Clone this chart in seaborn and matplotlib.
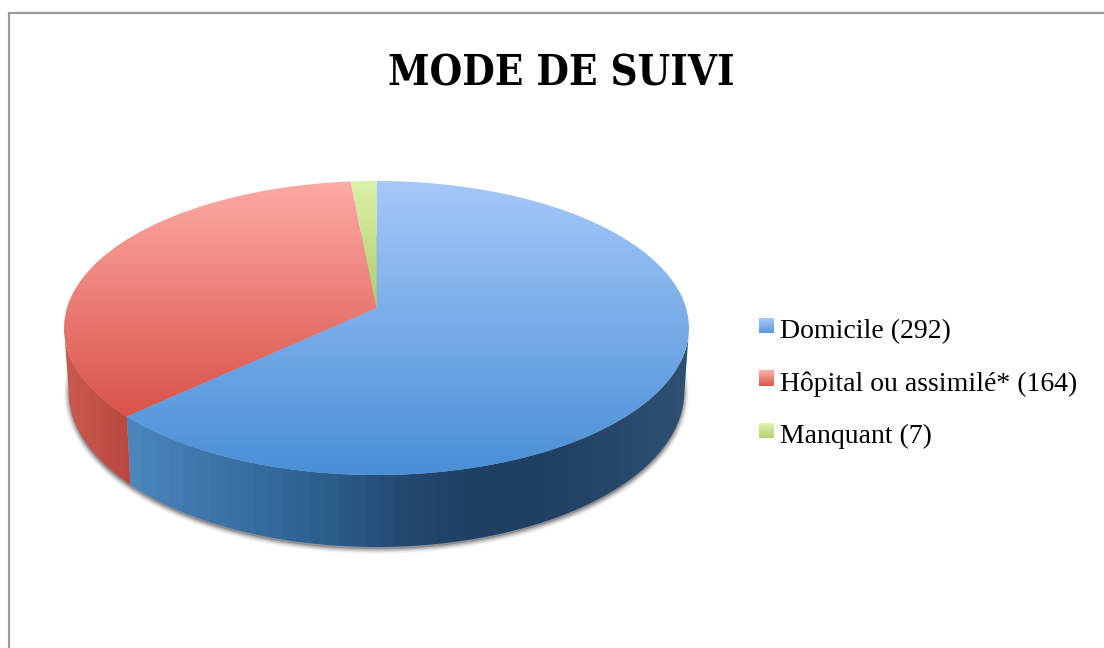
import numpy as np
import matplotlib
matplotlib.use("Agg")
import matplotlib.pyplot as plt
from matplotlib.legend_handler import HandlerBase
from matplotlib.patches import Patch, PathPatch, Rectangle
from matplotlib.path import Path
from matplotlib.transforms import Transform
import seaborn as sns

labels = ["Domicile (292)", "Hôpital ou assimilé* (164)", "Manquant (7)"]
values = [292, 164, 7]
title = "MODE DE SUIVI"

top_colors = [["#a5c8f9", "#4a8fd7"], ["#fdaaa4", "#d9534a"], ["#dcf1a9", "#aecd6c"]]
side_colors = [["#4a85bd", "#3f77ab", "#33699b", "#2a5a88", "#23476f", "#1f3f63", "#1f3f63", "#27486b", "#2c4f72"],
               ["#cb5a50", "#b8483f"],
               ["#a0bc62", "#8aa552"]]
legend_colors = [["#a5c8f9", "#5a9ad9"], ["#fdaaa4", "#d9594f"], ["#e0f4ae", "#b5d06f"]]

sns.set_theme(style="white")
plt.rcParams["font.family"] = ["Liberation Serif", "DejaVu Serif"]

# perspective of the disc, in pixels
cx, apex_y = 376.5, 308
k, a, c = 309.6, 144.3, 0.136
y_scale, depth, x_shrink = 1.06, 62, 0.985


class Tilt(Transform):
    input_dims = 2
    output_dims = 2

    def transform_non_affine(self, xy):
        xy = np.asarray(xy)
        d = 1 + c * xy[:, 1]
        return np.column_stack((cx + k * xy[:, 0] / d, apex_y - a * xy[:, 1] / d))


def lower_rim(pts):
    return np.column_stack((cx + (pts[:, 0] - cx) * x_shrink,
                            apex_y + (pts[:, 1] - apex_y) * y_scale + depth))


class GradientHandler(HandlerBase):
    def create_artists(self, legend, orig_handle, xdescent, ydescent, width, height, fontsize, trans):
        pal = sns.blend_palette(orig_handle.colors, 15)
        bars = []
        for i, col in enumerate(pal):
            h = height / len(pal)
            bars.append(Rectangle((-xdescent, 2 - ydescent + height - (i + 1) * h), width, h * 1.05,
                                  facecolor=col, edgecolor="none", transform=trans))
        return bars


fig, ax = plt.subplots(figsize=(11.04, 6.48), dpi=100)
fig.subplots_adjust(0, 0, 1, 1)
ax.set_autoscale_on(False)
tilt = Tilt()

wedges, _ = ax.pie(values, startangle=90, counterclock=False, radius=1)
ax.set_aspect("auto")

# soft shadow below the disc
t = np.linspace(0, 2 * np.pi, 400)
ring = lower_rim(tilt.transform_non_affine(np.column_stack((np.cos(t), np.sin(t))))) + [0, 2]
for lw, al in zip([7, 5, 3.5, 2], [0.06, 0.1, 0.14, 0.2]):
    ax.add_patch(PathPatch(Path(ring), facecolor="#555555", edgecolor="#555555", lw=lw, alpha=al, zorder=0))

# side wall of each slice, only the front part between the two silhouette points
edge = np.degrees(np.arcsin(c))
for w, cols in zip(wedges, side_colors):
    deg = np.linspace(w.theta1, w.theta2, 600) % 360
    deg = deg[(deg > 180 + edge) & (deg < 360 - edge)]
    if len(deg) == 0:
        continue
    t = np.radians(deg)
    rim = tilt.transform_non_affine(np.column_stack((np.cos(t), np.sin(t))))
    strip = np.vstack((rim, lower_rim(rim)[::-1], rim[:1]))
    x0, x1 = strip[:, 0].min(), strip[:, 0].max()
    pal = np.array(sns.blend_palette(cols, 40))[:, :3]
    im = ax.imshow(pal[None, :, :], extent=(x0, x1, strip[:, 1].max(), strip[:, 1].min()),
                   aspect="auto", interpolation="nearest", zorder=1)
    im.set_clip_path(Path(strip), transform=ax.transData)

# top face, with a vertical gradient per slice
for w, cols in zip(wedges, top_colors):
    w.set_transform(tilt + ax.transData)
    w.set_facecolor("none")
    w.set_edgecolor("none")
    box = tilt.transform_path(w.get_path()).get_extents()
    pal = np.array(sns.blend_palette(cols, 120))[:, :3]
    im = ax.imshow(pal[:, None, :], extent=(box.x0, box.x1, box.y1, box.y0),
                   aspect="auto", interpolation="bilinear", zorder=2)
    im.set_clip_path(w)

ax.set_xlim(0, 1104)
ax.set_ylim(648, 0)
ax.axis("off")

# chart frame, runs off the picture on the right and at the bottom
ax.plot([8.5, 8.5, 1104], [648, 12.5, 12.5], color="#9a9a9a", lw=1.6, zorder=3, solid_joinstyle="miter")

ax.text(561, 74, title, ha="center", va="center", fontsize=30, fontweight="bold", color="black",
        family=["DejaVu Serif"], stretch="condensed")

handles = [Patch(label=l) for l in labels]
for h, cols in zip(handles, legend_colors):
    h.colors = cols
leg = ax.legend(handles=handles, loc="upper left", bbox_to_anchor=(759 / 1104, 1 - 319 / 648),
                frameon=False, fontsize=20, labelspacing=0.985, handlelength=0.54, handleheight=0.48,
                handletextpad=0.22, borderpad=0, borderaxespad=0,
                handler_map={Patch: GradientHandler()})
for txt in leg.get_texts():
    txt.set_color("black")

fig.savefig("out.png", dpi=100)
